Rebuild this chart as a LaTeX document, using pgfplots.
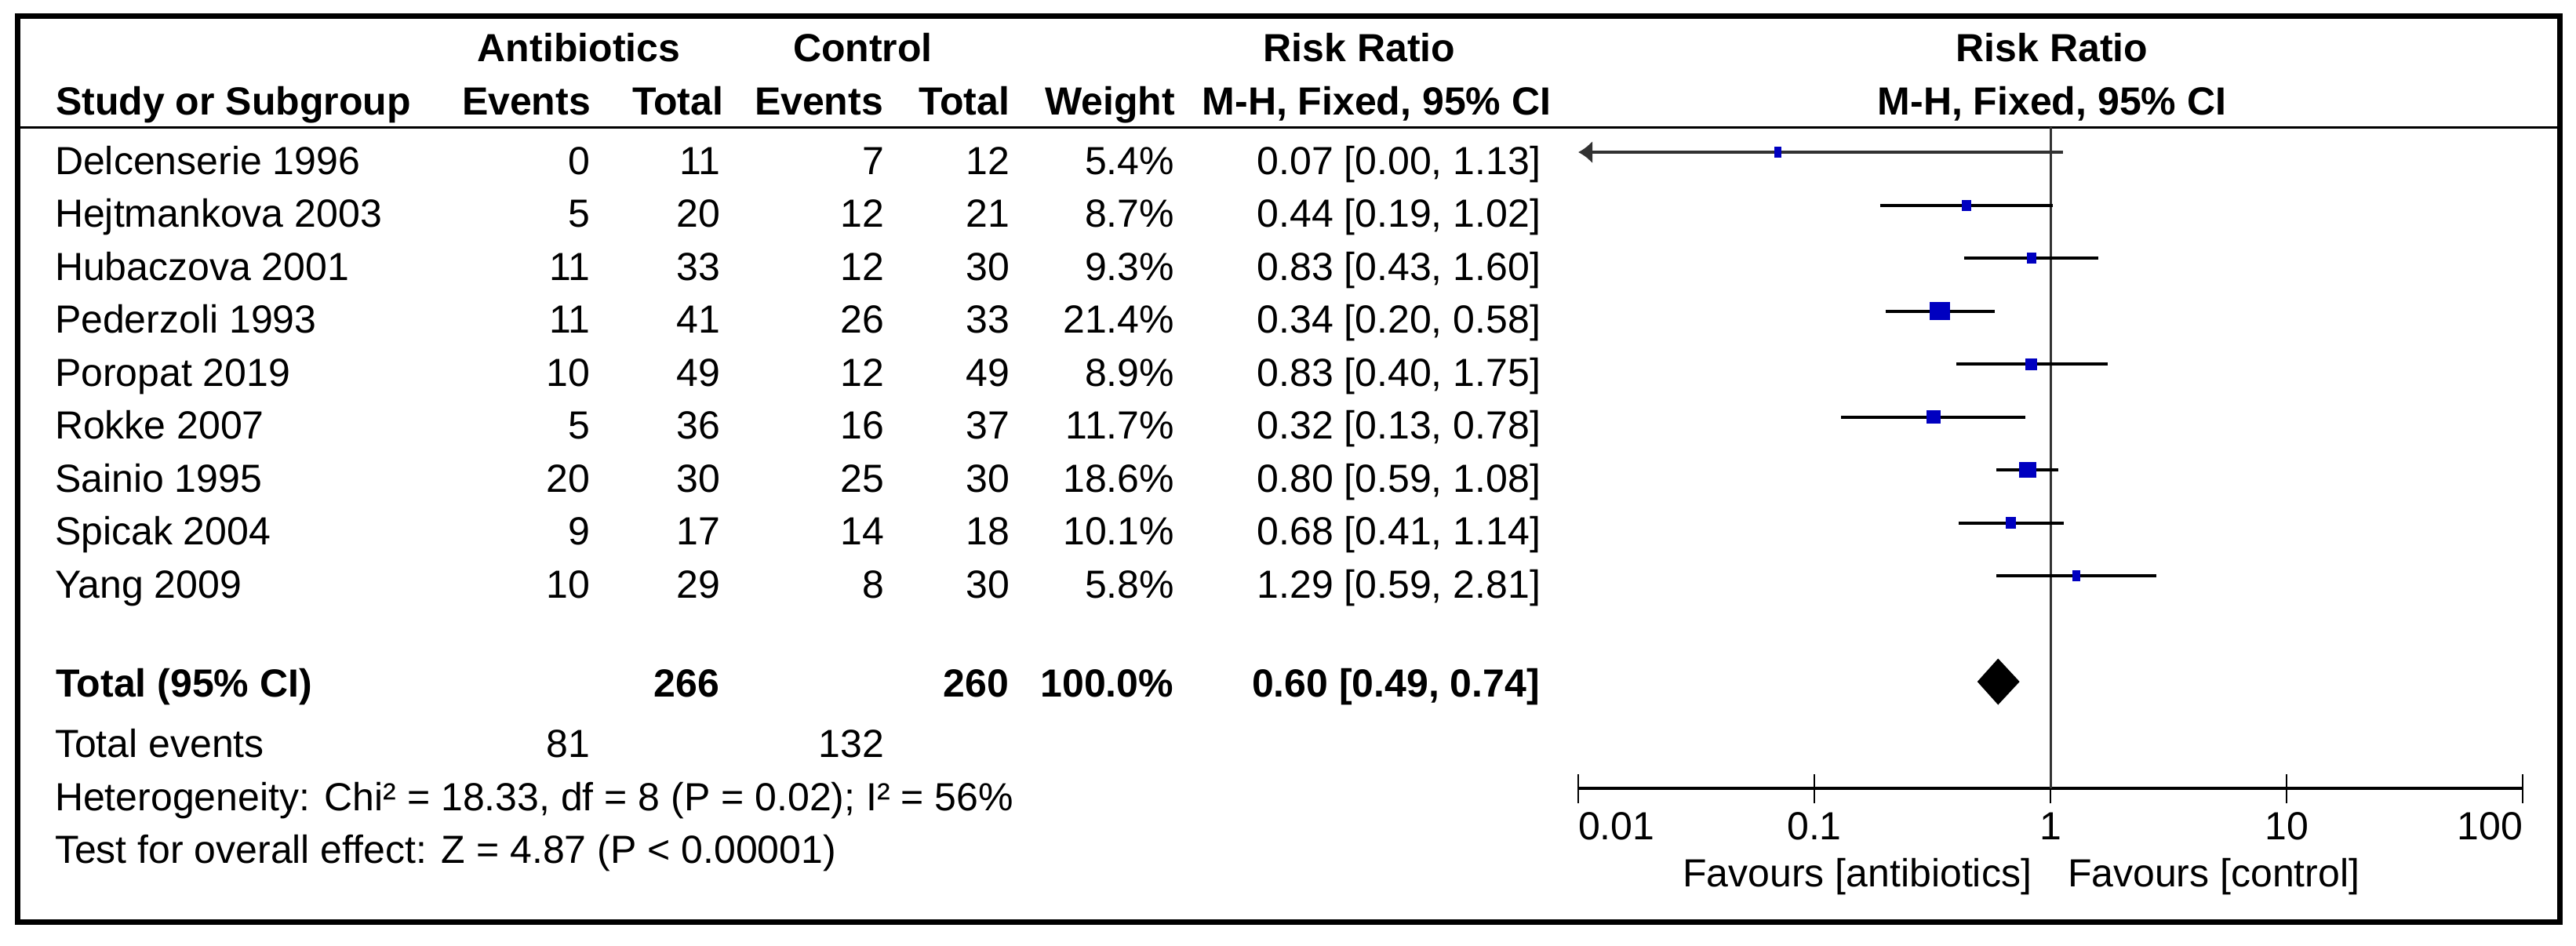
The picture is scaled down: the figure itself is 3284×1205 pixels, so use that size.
\documentclass[border=0pt]{standalone}
\usepackage{fontspec}
\setmainfont{Liberation Sans}
\usepackage{pgfplots}
\pgfplotsset{compat=1.18}
\usetikzlibrary{arrows.meta}

\definecolor{rmblue}{RGB}{0,0,192}
\definecolor{refline}{RGB}{50,50,50}

% one table row: baseline y, name, events/total (antibiotics), events/total (control), weight, CI text
\newcommand\studyrow[8]{%
  \node[anchor=base west] at (70,#1) {#2};
  \node[anchor=base east] at (752,#1) {#3};
  \node[anchor=base east] at (918,#1) {#4};
  \node[anchor=base east] at (1127,#1) {#5};
  \node[anchor=base east] at (1287,#1) {#6};
  \node[anchor=base east] at (1497,#1) {#7};
  \node[anchor=base east] at (1964,#1) {#8};
}

\pgfplotsset{
  ci/.style={black, line width=0.8pt, mark=square*, mark indices={2}},
  box/.style 2 args={mark size=#2, mark options={fill=rmblue, draw=rmblue, line width=0pt, solid, xscale=#1}},
}

\begin{document}
\begin{tikzpicture}[x=0.2pt, y=-0.2pt,
  every node/.style={inner sep=0pt, outer sep=0pt, font=\fontsize{10}{12}\selectfont}]
\useasboundingbox (0,0) rectangle (3284,1205);

% frame and header rule
\draw[line width=1.4pt] (22.5,20.5) rectangle (3263,1175);
\draw[line width=0.6pt] (22,162) -- (3262,162);

% headers
\begin{scope}[every node/.style={inner sep=0pt, font=\fontsize{10}{12}\selectfont\bfseries}]
  \node[anchor=base] at (738,78) {Antibiotics};
  \node[anchor=base] at (1100,78) {Control};
  \node[anchor=base] at (1733,78) {Risk Ratio};
  \node[anchor=base] at (2616,78) {Risk Ratio};
  \node[anchor=base west] at (70,146) {Study or Subgroup};
  \node[anchor=base east] at (754,146) {Events};
  \node[anchor=base east] at (923,146) {Total};
  \node[anchor=base east] at (1127,146) {Events};
  \node[anchor=base east] at (1288,146) {Total};
  \node[anchor=base east] at (1499,146) {Weight};
  \node[anchor=base] at (1755,146) {M-H, Fixed, 95\% CI};
  \node[anchor=base] at (2616,146) {M-H, Fixed, 95\% CI};
  % total row
  \node[anchor=base west] at (70,888) {Total (95\% CI)};
  \node[anchor=base east] at (918,888) {266};
  \node[anchor=base east] at (1287,888) {260};
  \node[anchor=base east] at (1497,888) {100.0\%};
  \node[anchor=base east] at (1964,888) {0.60 [0.49, 0.74]};
\end{scope}

\studyrow{222}{Delcenserie 1996}{0}{11}{7}{12}{5.4\%}{0.07 [0.00, 1.13]}
\studyrow{289.5}{Hejtmankova 2003}{5}{20}{12}{21}{8.7\%}{0.44 [0.19, 1.02]}
\studyrow{357}{Hubaczova 2001}{11}{33}{12}{30}{9.3\%}{0.83 [0.43, 1.60]}
\studyrow{424.5}{Pederzoli 1993}{11}{41}{26}{33}{21.4\%}{0.34 [0.20, 0.58]}
\studyrow{492}{Poropat 2019}{10}{49}{12}{49}{8.9\%}{0.83 [0.40, 1.75]}
\studyrow{559.5}{Rokke 2007}{5}{36}{16}{37}{11.7\%}{0.32 [0.13, 0.78]}
\studyrow{627}{Sainio 1995}{20}{30}{25}{30}{18.6\%}{0.80 [0.59, 1.08]}
\studyrow{694.5}{Spicak 2004}{9}{17}{14}{18}{10.1\%}{0.68 [0.41, 1.14]}
\studyrow{762}{Yang 2009}{10}{29}{8}{30}{5.8\%}{1.29 [0.59, 2.81]}

\node[anchor=base west] at (70,965) {Total events};
\node[anchor=base east] at (752,965) {81};
\node[anchor=base east] at (1127,965) {132};
\node[anchor=base west] at (70,1033) {Heterogeneity: Chi² = 18.33, df = 8 (P = 0.02); I² = 56\%};
\node[anchor=base west] at (70,1100) {Test for overall effect: Z = 4.87 (P < 0.00001)};

\node[anchor=base east] at (2590,1130) {Favours [antibiotics]};
\node[anchor=base west] at (2636,1130) {Favours [control]};

\begin{axis}[
  at={(402.4pt,-201pt)}, anchor=south west,
  scale only axis, width=240.8pt, height=168.6pt,
  xmode=log, xmin=0.01, xmax=100,
  ymin=-13.015, ymax=-0.526,
  axis y line=none, axis x line=bottom,
  x axis line style={-, line width=0.75pt},
  xtick={0.01,0.1,1,10,100},
  xticklabels={\rlap{0.01},0.1,1,10,\llap{100}},
  xminorticks=false,
  tick align=center, major tick length=7.4pt,
  every tick/.style={black, line width=0.55pt},
  xticklabel style={anchor=base, yshift=-9.4pt, inner sep=0pt,
    font=\fontsize{10}{12}\selectfont},
  clip=false,
]
% line of no effect
\addplot[refline, line width=0.6pt] coordinates {(1,-0.526) (1,-13.015)};

% studies: (lower, estimate, upper) on row y
\addplot[ci, draw=refline, {Latex[length=3.6pt,width=5.8pt]}-, box={0.583}{1.3pt}]
  coordinates {(0.01,-1) (0.07,-1) (1.13,-1)};
\addplot[ci, box={0.85}{1.3pt}]  coordinates {(0.19,-2) (0.44,-2) (1.02,-2)};
\addplot[ci, box={0.85}{1.3pt}]  coordinates {(0.43,-3) (0.83,-3) (1.60,-3)};
\addplot[ci, box={1.19}{2.15pt}] coordinates {(0.20,-4) (0.34,-4) (0.58,-4)};
\addplot[ci, box={1}{1.4pt}]     coordinates {(0.40,-5) (0.83,-5) (1.75,-5)};
\addplot[ci, box={1}{1.65pt}]    coordinates {(0.13,-6) (0.32,-6) (0.78,-6)};
\addplot[ci, box={1.05}{1.95pt}] coordinates {(0.59,-7) (0.80,-7) (1.08,-7)};
\addplot[ci, box={0.85}{1.45pt}] coordinates {(0.41,-8) (0.68,-8) (1.14,-8)};
\addplot[ci, box={0.7}{1.3pt}]   coordinates {(0.59,-9) (1.29,-9) (2.81,-9)};

% pooled estimate
\addplot[fill=black, draw=none] coordinates {(0.49,-11) (0.60,-10.563) (0.74,-11) (0.60,-11.437)} -- cycle;
\end{axis}
\end{tikzpicture}
\end{document}
